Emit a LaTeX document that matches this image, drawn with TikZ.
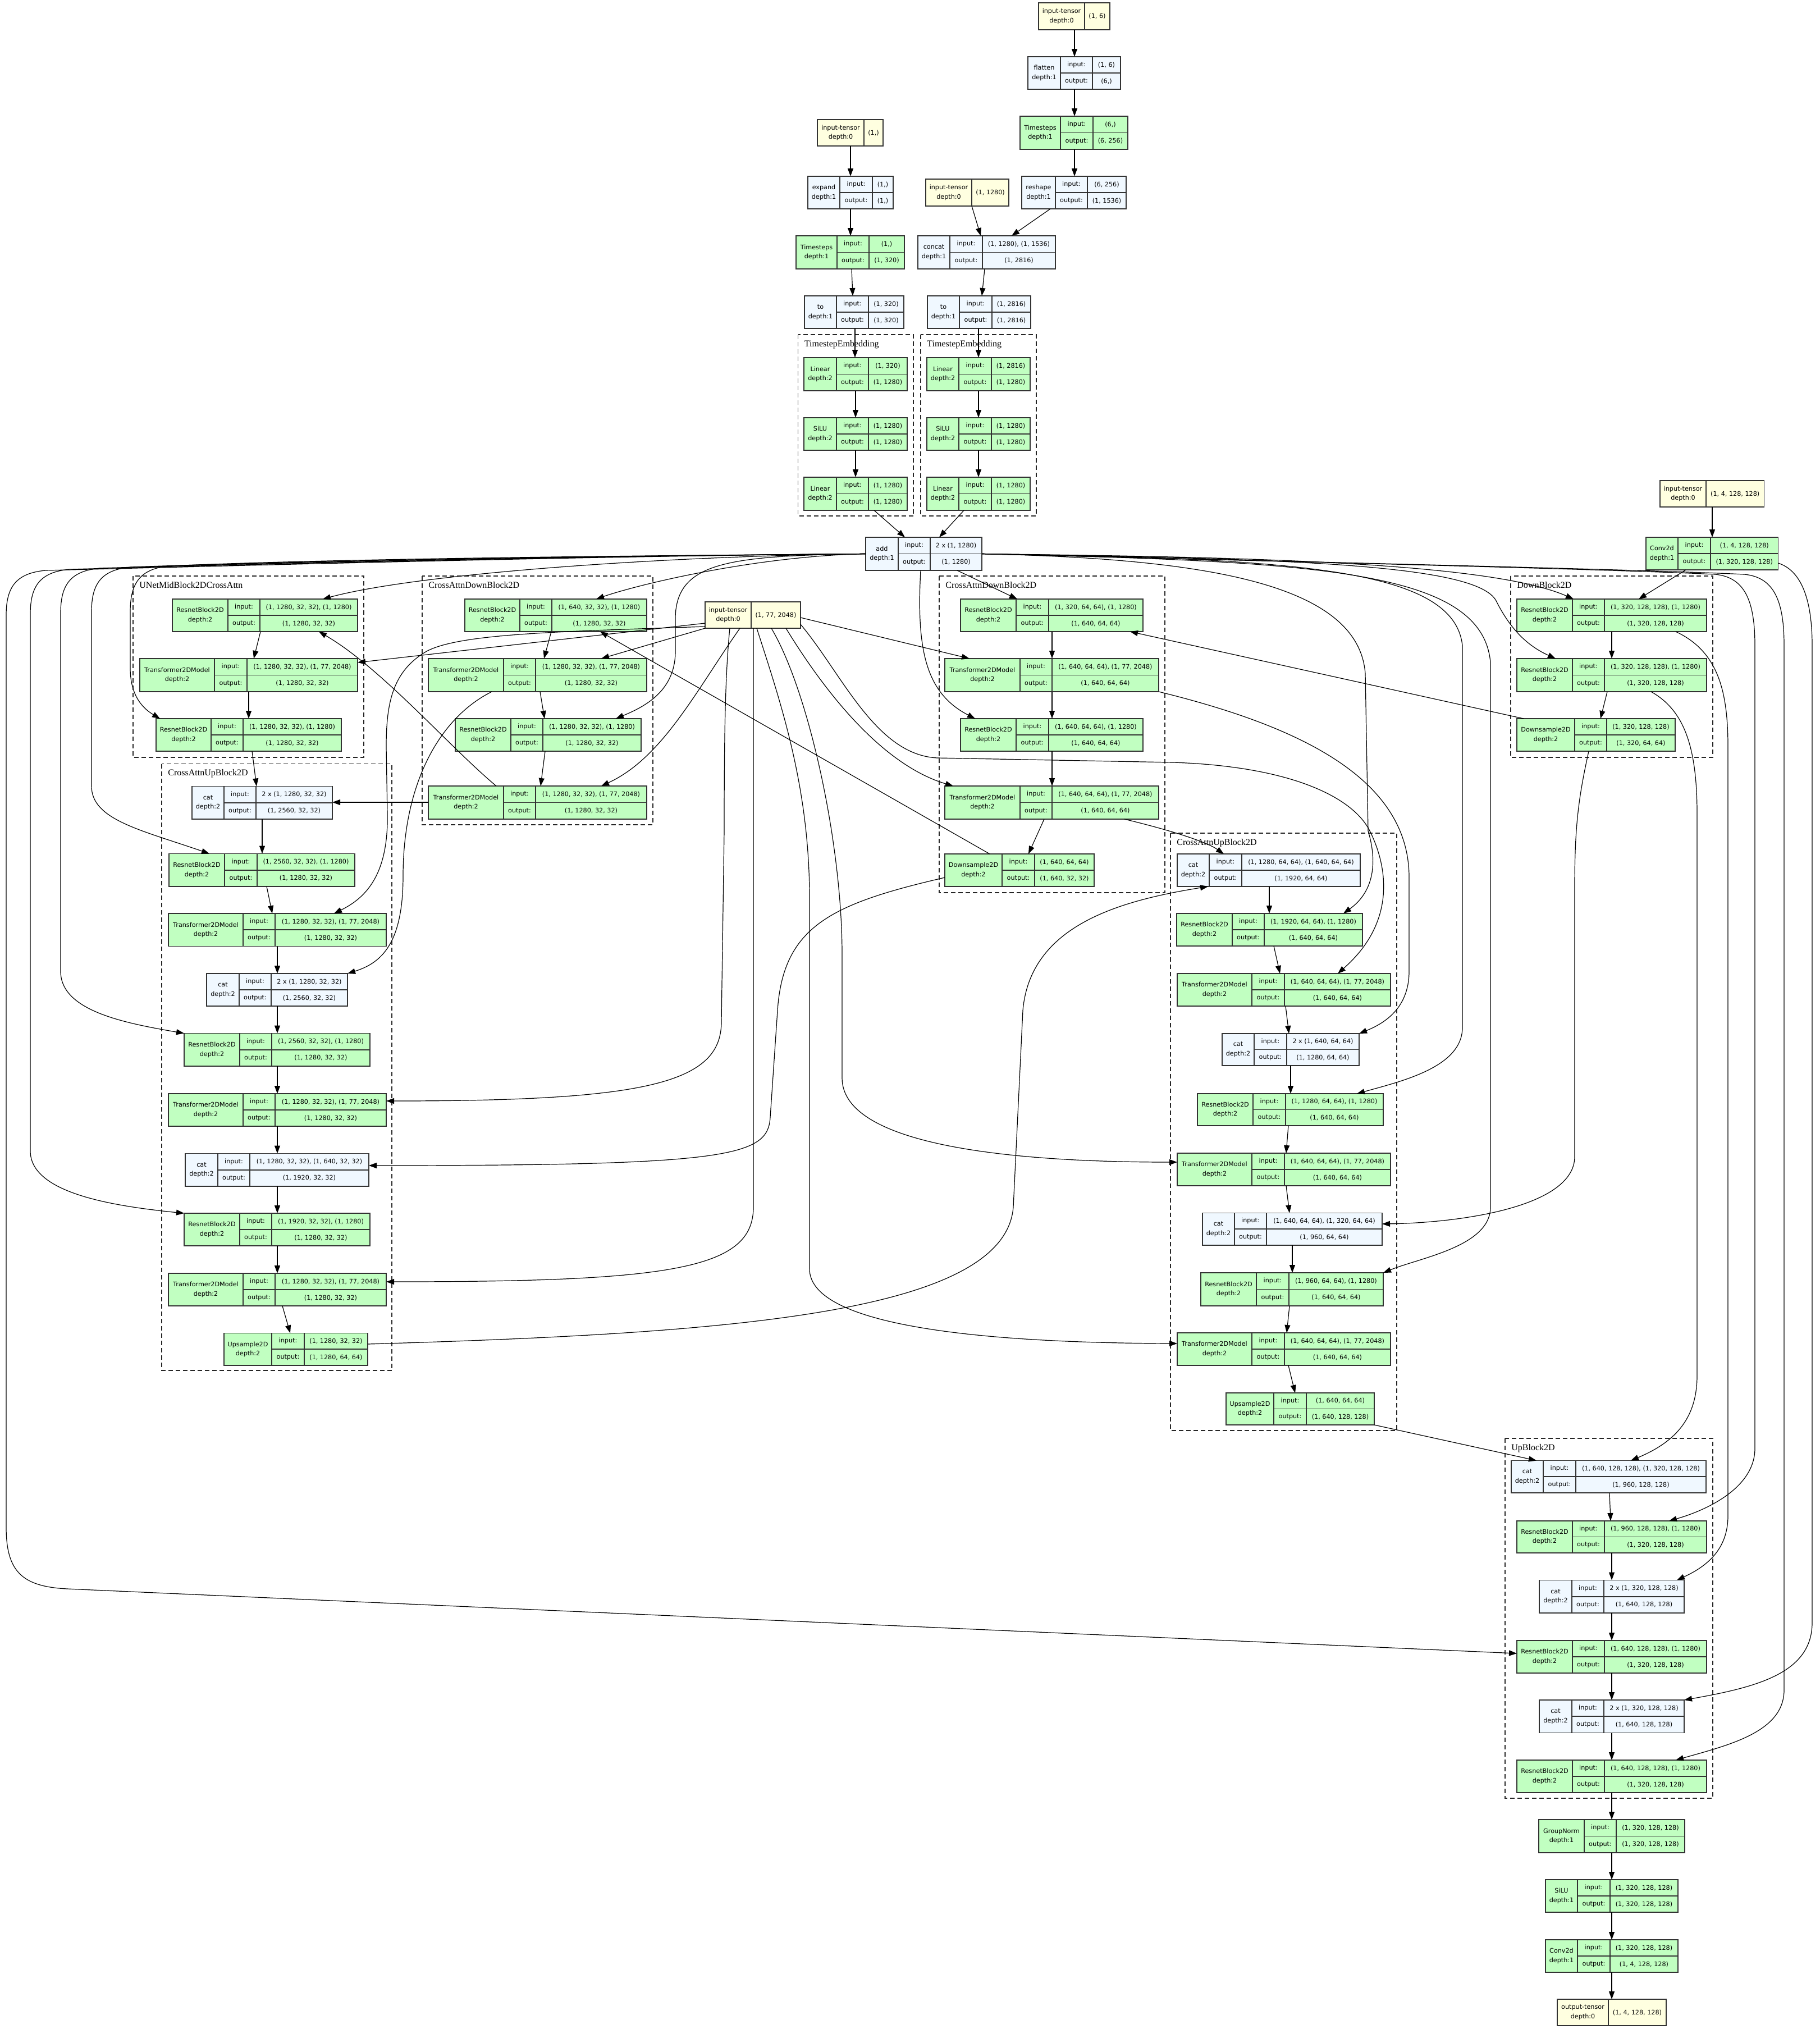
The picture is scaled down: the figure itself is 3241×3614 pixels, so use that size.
\documentclass[tikz,border=0pt]{standalone}
\usepackage{fontspec}
\setmainfont{DejaVu Sans}
\newfontfamily\clusterfont{Liberation Serif}
\usetikzlibrary{arrows.meta}
\definecolor{gfill}{HTML}{C1FFC1}
\definecolor{bfill}{HTML}{F0F8FF}
\definecolor{yfill}{HTML}{FFFFE0}
\definecolor{bord}{HTML}{333333}
% record node: name, L, s1, s2, R, T, B, fill, title
\newcommand{\zrec}[9]{%
  \pgfmathsetmacro\zzW{(#5-#2)*0.5}\pgfmathsetmacro\zzH{(#7-#6)*0.5}%
  \pgfmathsetmacro\zzM{(#6+#7)/2}%
  \node[cellbox,fill=#8,minimum width=\zzW pt,minimum height=\zzH pt] (#1) at ({(#2+#5)/2},\zzM) {};
  \draw[cellline] (#3,#6) -- (#3,#7) (#4,#6) -- (#4,#7) (#3,\zzM) -- (#5,\zzM);
  \node[txt] at ({(#2+#3)/2},\zzM) {#9};
  \xdef\zzsA{#3}\xdef\zzsB{#4}\xdef\zzR{#5}\xdef\zzT{#6}\xdef\zzB{#7}\xdef\zzMid{\zzM}%
}
\newcommand{\zio}[2]{%
  \node[txt] at ({(\zzsA+\zzsB)/2},{(\zzT+\zzMid)/2}) {input:};
  \node[txt] at ({(\zzsB+\zzR)/2},{(\zzT+\zzMid)/2}) {#1};
  \node[txt] at ({(\zzsA+\zzsB)/2},{(\zzMid+\zzB)/2}) {output:};
  \node[txt] at ({(\zzsB+\zzR)/2},{(\zzMid+\zzB)/2}) {#2};
}
% tensor node: name, L, split, R, T, B, title, value
\newcommand{\zten}[8]{%
  \pgfmathsetmacro\zzW{(#4-#2)*0.5}\pgfmathsetmacro\zzH{(#6-#5)*0.5}%
  \pgfmathsetmacro\zzM{(#5+#6)/2}%
  \node[cellbox,fill=yfill,minimum width=\zzW pt,minimum height=\zzH pt] (#1) at ({(#2+#4)/2},\zzM) {};
  \draw[cellline] (#3,#5) -- (#3,#6);
  \node[txt] at ({(#2+#3)/2},\zzM) {#7};
  \node[txt] at ({(#3+#4)/2},\zzM) {#8};
}
% cluster: name, L, T, R, B, label
\newcommand{\zclus}[6]{%
  \draw[clusbox] (#2,#3) rectangle (#4,#5);
  \node[cllabel] (#1) at ({#2+11},{#3+21}) {#6};
}
\begin{document}
\begin{tikzpicture}[x=0.5pt,y=-0.5pt,
  cellbox/.style={draw=bord,line width=0.8pt,inner sep=0pt,outer sep=0pt},
  cellline/.style={draw=bord,line width=0.8pt},
  txt/.style={inner sep=0pt,align=center,font=\fontsize{5.6}{8.35}\selectfont},
  clusbox/.style={draw=black!85,line width=0.65pt,dash pattern=on 4pt off 2.5pt},
  cllabel/.style={anchor=base west,inner sep=0pt,font=\clusterfont\fontsize{8}{9}\selectfont},
  edg/.style={draw=black,line width=0.6pt,-{Triangle[length=7pt,width=5pt]}},
]
\useasboundingbox (0,0) rectangle (3241,3614);
\fill[white] (0,0) rectangle (3241,3614);

% ---------- clusters ----------
\zclus{cTE1}{1421.5}{596}{1627}{919}{TimestepEmbedding}
\zclus{cTE2}{1640}{596}{1846}{919}{TimestepEmbedding}
\zclus{cMid}{237}{1026}{648}{1349}{UNetMidBlock2DCrossAttn}
\zclus{cDL}{752}{1026}{1163}{1469}{CrossAttnDownBlock2D}
\zclus{cDM}{1673}{1026}{2075}{1590}{CrossAttnDownBlock2D}
\zclus{cDR}{2691}{1026}{3051}{1349}{DownBlock2D}
\zclus{cUL}{288}{1360.5}{698}{2441}{CrossAttnUpBlock2D}
\zclus{cUR}{2085}{1484}{2488}{2548}{CrossAttnUpBlock2D}
\zclus{cUB}{2681}{2562}{3051}{3203}{UpBlock2D}

% ---------- top ----------
\zten{it6}{1850}{1932}{1977}{5}{53}{input-tensor\\depth:0}{(1, 6)}
\zrec{flatten}{1831}{1889}{1946}{1996}{101}{159}{bfill}{flatten\\depth:1}\zio{(1, 6)}{(6,)}
\zrec{ts6}{1817}{1889}{1947}{2009}{207}{266}{gfill}{Timesteps\\depth:1}\zio{(6,)}{(6, 256)}
\zrec{reshape}{1820}{1880}{1937}{2006}{314}{372}{bfill}{reshape\\depth:1}\zio{(6, 256)}{(1, 1536)}
\zten{it1}{1456}{1539}{1573}{213}{260}{input-tensor\\depth:0}{(1,)}
\zrec{expand}{1439}{1496}{1554}{1591}{314}{372}{bfill}{expand\\depth:1}\zio{(1,)}{(1,)}
\zrec{ts1}{1418}{1491}{1548}{1611}{420}{479}{gfill}{Timesteps\\depth:1}\zio{(1,)}{(1, 320)}
\zrec{to1}{1433}{1490}{1547}{1610}{527}{585}{bfill}{to\\depth:1}\zio{(1, 320)}{(1, 320)}
\zten{it1280}{1649}{1731}{1797}{319}{367}{input-tensor\\depth:0}{(1, 1280)}
\zrec{concat}{1635}{1692}{1750}{1880}{420}{479}{bfill}{concat\\depth:1}\zio{(1, 1280), (1, 1536)}{(1, 2816)}
\zrec{to2}{1652}{1709}{1767}{1836}{527}{585}{bfill}{to\\depth:1}\zio{(1, 2816)}{(1, 2816)}
\zrec{lin1a}{1432}{1490}{1547}{1616}{637}{696}{gfill}{Linear\\depth:2}\zio{(1, 320)}{(1, 1280)}
\zrec{silu1}{1432}{1490}{1547}{1616}{744}{802}{gfill}{SiLU\\depth:2}\zio{(1, 1280)}{(1, 1280)}
\zrec{lin1b}{1432}{1490}{1547}{1616}{850}{909}{gfill}{Linear\\depth:2}\zio{(1, 1280)}{(1, 1280)}
\zrec{lin2a}{1651}{1708}{1766}{1835}{637}{696}{gfill}{Linear\\depth:2}\zio{(1, 2816)}{(1, 1280)}
\zrec{silu2}{1651}{1708}{1766}{1835}{744}{802}{gfill}{SiLU\\depth:2}\zio{(1, 1280)}{(1, 1280)}
\zrec{lin2b}{1651}{1708}{1766}{1835}{850}{909}{gfill}{Linear\\depth:2}\zio{(1, 1280)}{(1, 1280)}
\zrec{add}{1542}{1600}{1657}{1749}{957}{1016}{bfill}{add\\depth:1}\zio{2 x (1, 1280)}{(1, 1280)}

% ---------- mid ----------
\zrec{mid1}{307}{406}{463}{637}{1067}{1125}{gfill}{ResnetBlock2D\\depth:2}\zio{(1, 1280, 32, 32), (1, 1280)}{(1, 1280, 32, 32)}
\zrec{midT}{249}{382}{440}{637}{1173}{1232}{gfill}{Transformer2DModel\\depth:2}\zio{(1, 1280, 32, 32), (1, 77, 2048)}{(1, 1280, 32, 32)}
\zrec{mid2}{278}{376}{433}{608}{1280}{1338}{gfill}{ResnetBlock2D\\depth:2}\zio{(1, 1280, 32, 32), (1, 1280)}{(1, 1280, 32, 32)}

% ---------- left down ----------
\zrec{d1}{828}{926}{983}{1152}{1067}{1125}{gfill}{ResnetBlock2D\\depth:2}\zio{(1, 640, 32, 32), (1, 1280)}{(1, 1280, 32, 32)}
\zrec{Td1}{763}{897}{954}{1152}{1173}{1232}{gfill}{Transformer2DModel\\depth:2}\zio{(1, 1280, 32, 32), (1, 77, 2048)}{(1, 1280, 32, 32)}
\zrec{d2}{811}{910}{967}{1142}{1280}{1338}{gfill}{ResnetBlock2D\\depth:2}\zio{(1, 1280, 32, 32), (1, 1280)}{(1, 1280, 32, 32)}
\zrec{Td2}{763}{897}{954}{1152}{1400}{1459}{gfill}{Transformer2DModel\\depth:2}\zio{(1, 1280, 32, 32), (1, 77, 2048)}{(1, 1280, 32, 32)}
\zten{it77}{1256}{1338}{1426}{1072}{1119}{input-tensor\\depth:0}{(1, 77, 2048)}

% ---------- middle down ----------
\zrec{m1}{1711}{1810}{1868}{2036}{1067}{1125}{gfill}{ResnetBlock2D\\depth:2}\zio{(1, 320, 64, 64), (1, 1280)}{(1, 640, 64, 64)}
\zrec{Tm1}{1683}{1817}{1874}{2064}{1173}{1232}{gfill}{Transformer2DModel\\depth:2}\zio{(1, 640, 64, 64), (1, 77, 2048)}{(1, 640, 64, 64)}
\zrec{m2}{1711}{1810}{1868}{2036}{1280}{1338}{gfill}{ResnetBlock2D\\depth:2}\zio{(1, 640, 64, 64), (1, 1280)}{(1, 640, 64, 64)}
\zrec{Tm2}{1683}{1817}{1874}{2064}{1400}{1459}{gfill}{Transformer2DModel\\depth:2}\zio{(1, 640, 64, 64), (1, 77, 2048)}{(1, 640, 64, 64)}
\zrec{dsm}{1683}{1785}{1843}{1949}{1521}{1579}{gfill}{Downsample2D\\depth:2}\zio{(1, 640, 64, 64)}{(1, 640, 32, 32)}

% ---------- right down ----------
\zten{it4}{2957}{3039}{3142.5}{856}{903}{input-tensor\\depth:0}{(1, 4, 128, 128)}
\zrec{convin}{2932}{2989}{3047}{3167.5}{957}{1015}{gfill}{Conv2d\\depth:1}\zio{(1, 4, 128, 128)}{(1, 320, 128, 128)}
\zrec{r1}{2702}{2801}{2858}{3040}{1067}{1125}{gfill}{ResnetBlock2D\\depth:2}\zio{(1, 320, 128, 128), (1, 1280)}{(1, 320, 128, 128)}
\zrec{r2}{2702}{2801}{2858}{3040}{1173}{1232}{gfill}{ResnetBlock2D\\depth:2}\zio{(1, 320, 128, 128), (1, 1280)}{(1, 320, 128, 128)}
\zrec{dsr}{2702}{2805}{2862}{2984}{1280}{1338}{gfill}{Downsample2D\\depth:2}\zio{(1, 320, 128, 128)}{(1, 320, 64, 64)}

% ---------- left up ----------
\zrec{cu1}{342}{399}{456}{592}{1400.5}{1459}{bfill}{cat\\depth:2}\zio{2 x (1, 1280, 32, 32)}{(1, 2560, 32, 32)}
\zrec{Ru1}{301}{400}{458}{632}{1520.5}{1579}{gfill}{ResnetBlock2D\\depth:2}\zio{(1, 2560, 32, 32), (1, 1280)}{(1, 1280, 32, 32)}
\zrec{Tu1}{300}{433}{490}{688}{1627}{1685.5}{gfill}{Transformer2DModel\\depth:2}\zio{(1, 1280, 32, 32), (1, 77, 2048)}{(1, 1280, 32, 32)}
\zrec{cu2}{368}{426}{483}{619}{1734}{1792}{bfill}{cat\\depth:2}\zio{2 x (1, 1280, 32, 32)}{(1, 2560, 32, 32)}
\zrec{Ru2}{328}{427}{484}{659}{1840.5}{1899}{gfill}{ResnetBlock2D\\depth:2}\zio{(1, 2560, 32, 32), (1, 1280)}{(1, 1280, 32, 32)}
\zrec{Tu2}{300}{433}{490}{688}{1948}{2006}{gfill}{Transformer2DModel\\depth:2}\zio{(1, 1280, 32, 32), (1, 77, 2048)}{(1, 1280, 32, 32)}
\zrec{cu3}{330}{388}{445}{657}{2054.5}{2113}{bfill}{cat\\depth:2}\zio{(1, 1280, 32, 32), (1, 640, 32, 32)}{(1, 1920, 32, 32)}
\zrec{Ru3}{328}{427}{484}{659}{2161}{2219}{gfill}{ResnetBlock2D\\depth:2}\zio{(1, 1920, 32, 32), (1, 1280)}{(1, 1280, 32, 32)}
\zrec{Tu3}{300}{433}{490}{688}{2268}{2326}{gfill}{Transformer2DModel\\depth:2}\zio{(1, 1280, 32, 32), (1, 77, 2048)}{(1, 1280, 32, 32)}
\zrec{usu}{399}{484}{542}{655}{2374.5}{2432}{gfill}{Upsample2D\\depth:2}\zio{(1, 1280, 32, 32)}{(1, 1280, 64, 64)}

% ---------- right up ----------
\zrec{cr1}{2097}{2154}{2212}{2423}{1521}{1579}{bfill}{cat\\depth:2}\zio{(1, 1280, 64, 64), (1, 640, 64, 64)}{(1, 1920, 64, 64)}
\zrec{Rr1}{2096}{2195}{2252}{2427}{1627}{1685}{gfill}{ResnetBlock2D\\depth:2}\zio{(1, 1920, 64, 64), (1, 1280)}{(1, 640, 64, 64)}
\zrec{Tr1}{2097}{2230}{2288}{2477}{1734}{1792}{gfill}{Transformer2DModel\\depth:2}\zio{(1, 640, 64, 64), (1, 77, 2048)}{(1, 640, 64, 64)}
\zrec{cr2}{2177}{2234}{2292}{2421}{1841}{1898}{bfill}{cat\\depth:2}\zio{2 x (1, 640, 64, 64)}{(1, 1280, 64, 64)}
\zrec{Rr2}{2133}{2232}{2290}{2464}{1948}{2005}{gfill}{ResnetBlock2D\\depth:2}\zio{(1, 1280, 64, 64), (1, 1280)}{(1, 640, 64, 64)}
\zrec{Tr2}{2097}{2230}{2288}{2477}{2054}{2112}{gfill}{Transformer2DModel\\depth:2}\zio{(1, 640, 64, 64), (1, 77, 2048)}{(1, 640, 64, 64)}
\zrec{cr3}{2142}{2199}{2256}{2462}{2160.5}{2218}{bfill}{cat\\depth:2}\zio{(1, 640, 64, 64), (1, 320, 64, 64)}{(1, 960, 64, 64)}
\zrec{Rr3}{2139}{2238}{2296}{2464}{2267}{2326}{gfill}{ResnetBlock2D\\depth:2}\zio{(1, 960, 64, 64), (1, 1280)}{(1, 640, 64, 64)}
\zrec{Tr3}{2097}{2230}{2288}{2477}{2374}{2432}{gfill}{Transformer2DModel\\depth:2}\zio{(1, 640, 64, 64), (1, 77, 2048)}{(1, 640, 64, 64)}
\zrec{usr}{2184}{2269}{2327}{2448}{2481}{2538}{gfill}{Upsample2D\\depth:2}\zio{(1, 640, 64, 64)}{(1, 640, 128, 128)}

% ---------- up block ----------
\zrec{cb1}{2692}{2749}{2807}{3039}{2601.5}{2659}{bfill}{cat\\depth:2}\zio{(1, 640, 128, 128), (1, 320, 128, 128)}{(1, 960, 128, 128)}
\zrec{Rb1}{2702}{2801}{2858}{3040}{2709}{2766}{gfill}{ResnetBlock2D\\depth:2}\zio{(1, 960, 128, 128), (1, 1280)}{(1, 320, 128, 128)}
\zrec{cb2}{2742}{2800}{2857}{3000}{2814.5}{2873}{bfill}{cat\\depth:2}\zio{2 x (1, 320, 128, 128)}{(1, 640, 128, 128)}
\zrec{Rb2}{2702}{2801}{2858}{3040}{2922}{2980}{gfill}{ResnetBlock2D\\depth:2}\zio{(1, 640, 128, 128), (1, 1280)}{(1, 320, 128, 128)}
\zrec{cb3}{2742}{2800}{2857}{3000}{3028}{3086.5}{bfill}{cat\\depth:2}\zio{2 x (1, 320, 128, 128)}{(1, 640, 128, 128)}
\zrec{Rb3}{2702}{2801}{2858}{3040}{3135}{3193}{gfill}{ResnetBlock2D\\depth:2}\zio{(1, 640, 128, 128), (1, 1280)}{(1, 320, 128, 128)}
\zrec{gn}{2741}{2822}{2879}{3001}{3241}{3300}{gfill}{GroupNorm\\depth:1}\zio{(1, 320, 128, 128)}{(1, 320, 128, 128)}
\zrec{silu}{2753}{2810}{2868}{2989}{3348}{3406}{gfill}{SiLU\\depth:1}\zio{(1, 320, 128, 128)}{(1, 320, 128, 128)}
\zrec{convout}{2753}{2810}{2868}{2989}{3455}{3513}{gfill}{Conv2d\\depth:1}\zio{(1, 320, 128, 128)}{(1, 4, 128, 128)}
\zten{outt}{2774}{2865}{2968}{3561}{3608}{output-tensor\\depth:0}{(1, 4, 128, 128)}

% ================= edges =================
% top chains
\draw[edg] (it6.south -| 1914,0) -- (flatten.north -| 1914,0);
\draw[edg] (flatten.south -| 1914,0) -- (ts6.north -| 1914,0);
\draw[edg] (ts6.south -| 1914,0) -- (reshape.north -| 1914,0);
\draw[edg] (it1.south -| 1515,0) -- (expand.north -| 1515,0);
\draw[edg] (expand.south -| 1515,0) -- (ts1.north -| 1515,0);
\draw[edg] (ts1.south -| 1517,0) -- (to1.north -| 1519,0);
\draw[edg] (to1.south -| 1523,0) -- (lin1a.north -| 1523,0);
\draw[edg] (it1280.south -| 1731,0) -- (concat.north -| 1747,0);
\draw[edg] (reshape.south -| 1871,0) -- (concat.north -| 1802,0);
\draw[edg] (concat.south -| 1754,0) -- (to2.north -| 1749,0);
\draw[edg] (to2.south -| 1743,0) -- (lin2a.north -| 1743,0);
\draw[edg] (lin1a.south -| 1524,0) -- (silu1.north -| 1524,0);
\draw[edg] (silu1.south -| 1524,0) -- (lin1b.north -| 1524,0);
\draw[edg] (lin2a.south -| 1743,0) -- (silu2.north -| 1743,0);
\draw[edg] (silu2.south -| 1743,0) -- (lin2b.north -| 1743,0);
\draw[edg] (lin1b.south -| 1557,0) -- (add.north -| 1612,0);
\draw[edg] (lin2b.south -| 1717,0) -- (add.north -| 1673,0);

% block chains
\draw[edg] (mid1.south -| 464,0) -- (midT.north -| 452,0);
\draw[edg] (midT.south -| 443,0) -- (mid2.north -| 443,0);
\draw[edg] (mid2.south -| 449,0) -- (cu1.north -| 457,0);
\draw[edg] (d1.south -| 982,0) -- (Td1.north -| 969,0);
\draw[edg] (Td1.south -| 962,0) -- (d2.north -| 970,0);
\draw[edg] (d2.south -| 971,0) -- (Td2.north -| 963,0);
\draw[edg] (m1.south -| 1874,0) -- (Tm1.north -| 1874,0);
\draw[edg] (Tm1.south -| 1874,0) -- (m2.north -| 1874,0);
\draw[edg] (m2.south -| 1874,0) -- (Tm2.north -| 1874,0);
\draw[edg] (Tm2.south -| 1860,0) -- (dsm.north -| 1832,0);
\draw[edg] (it4.south -| 3050,0) -- (convin.north -| 3050,0);
\draw[edg] (convin.south -| 3003,0) -- (r1.north -| 2919,0);
\draw[edg] (r1.south -| 2871,0) -- (r2.north -| 2871,0);
\draw[edg] (r2.south -| 2863,0) -- (dsr.north -| 2851,0);
\draw[edg] (cu1.south -| 467,0) -- (Ru1.north -| 467,0);
\draw[edg] (Ru1.south -| 475,0) -- (Tu1.north -| 485,0);
\draw[edg] (Tu1.south -| 494,0) -- (cu2.north -| 494,0);
\draw[edg] (cu2.south -| 494,0) -- (Ru2.north -| 494,0);
\draw[edg] (Ru2.south -| 494,0) -- (Tu2.north -| 494,0);
\draw[edg] (Tu2.south -| 494,0) -- (cu3.north -| 494,0);
\draw[edg] (cu3.south -| 494,0) -- (Ru3.north -| 494,0);
\draw[edg] (Ru3.south -| 494,0) -- (Tu3.north -| 494,0);
\draw[edg] (Tu3.south -| 503,0) -- (usu.north -| 517,0);
\draw[edg] (cr1.south -| 2261,0) -- (Rr1.north -| 2261,0);
\draw[edg] (Rr1.south -| 2269,0) -- (Tr1.north -| 2280,0);
\draw[edg] (Tr1.south -| 2290,0) -- (cr2.north -| 2296,0);
\draw[edg] (cr2.south -| 2299,0) -- (Rr2.north -| 2299,0);
\draw[edg] (Rr2.south -| 2295,0) -- (Tr2.north -| 2291,0);
\draw[edg] (Tr2.south -| 2291,0) -- (cr3.north -| 2297,0);
\draw[edg] (cr3.south -| 2302,0) -- (Rr3.north -| 2302,0);
\draw[edg] (Rr3.south -| 2297,0) -- (Tr3.north -| 2292,0);
\draw[edg] (Tr3.south -| 2295,0) -- (usr.north -| 2307,0);
\draw[edg] (cb1.south -| 2867,0) -- (Rb1.north -| 2869,0);
\draw[edg] (Rb1.south -| 2871,0) -- (cb2.north -| 2871,0);
\draw[edg] (cb2.south -| 2871,0) -- (Rb2.north -| 2871,0);
\draw[edg] (Rb2.south -| 2871,0) -- (cb3.north -| 2871,0);
\draw[edg] (cb3.south -| 2871,0) -- (Rb3.north -| 2871,0);
\draw[edg] (Rb3.south -| 2871,0) -- (gn.north -| 2871,0);
\draw[edg] (gn.south -| 2871,0) -- (silu.north -| 2871,0);
\draw[edg] (silu.south -| 2871,0) -- (convout.north -| 2871,0);
\draw[edg] (convout.south -| 2871,0) -- (outt.north -| 2871,0);

% skip connections
\draw[edg] (Td2.west |- 0,1429) -- (cu1.east |- 0,1429);
\draw[edg] (Td1.south -| 876,0) .. controls (780,1280) and (718,1400) .. (718,1560) .. controls (718,1680) and (680,1715) .. (cu2.north east);
\draw[edg] (dsm.west |- 0,1563) .. controls (1480,1610) and (1395,1650) .. (1385,1800) -- (1372,1990) .. controls (1368,2060) and (1300,2076) .. (cu3.east |- 0,2076);
\draw[edg] (dsm.north -| 1763,0) -- (d1.south -| 1069,0);
\draw[edg] (Td2.north -| 884,0) .. controls (800,1330) and (680,1190) .. (mid1.south -| 568,0);
\draw[edg] (dsr.north -| 2714,0) -- (m1.south -| 2013,0);
\draw[edg] (dsr.south -| 2830,0) .. controls (2812,1420) and (2805,1470) .. (2805,1580) -- (2805,2060) .. controls (2805,2150) and (2600,2178) .. (cr3.east |- 0,2180);
\draw[edg] (Tm1.south east) .. controls (2300,1290) and (2508,1380) .. (2510,1560) -- (2510,1730) .. controls (2510,1800) and (2460,1825) .. (cr2.north east);
\draw[edg] (Tm2.south -| 2003,0) .. controls (2090,1480) and (2150,1500) .. (cr1.north -| 2180,0);
\draw[edg] (usu.east |- 0,2394) .. controls (1300,2375) and (1790,2340) .. (1805,2150) -- (1822,1800) .. controls (1835,1650) and (1990,1605) .. (cr1.south -| 2152,0);
\draw[edg] (usr.south east) -- (cb1.north -| 2737,0);
\draw[edg] (r2.south -| 2941,0) .. controls (3000,1265) and (3023,1330) .. (3023,1450) -- (3023,2450) .. controls (3023,2530) and (2980,2570) .. (cb1.north -| 2905,0);
\draw[edg] (r1.south -| 2985,0) .. controls (3060,1160) and (3078,1230) .. (3078,1330) -- (3078,2700) .. controls (3078,2760) and (3040,2790) .. (cb2.north -| 2987,0);
\draw[edg] (convin.east |- 0,1003) .. controls (3205,1015) and (3228,1060) .. (3228,1150) -- (3228,2890) .. controls (3228,2980) and (3130,3005) .. (cb3.north east);

% time embedding (add) -> resnet blocks, leftwards
\draw[edg] (add.west) .. controls (1200,990) and (750,1020) .. (mid1.north -| 575,0);
\draw[edg] (add.west) .. controls (1350,990) and (1140,1040) .. (d1.north -| 1062,0);
\draw[edg] (add.west) .. controls (1300,990) and (1205,1000) .. (1203,1100) -- (1203,1160) .. controls (1203,1230) and (1150,1258) .. (d2.north -| 1097,0);
\draw[edg] (add.west) .. controls (1100,990) and (600,995) .. (302,1008) .. controls (248,1013) and (232,1040) .. (232,1090) -- (232,1190) .. controls (232,1240) and (255,1262) .. (mid2.north -| 285,0);
\draw[edg] (add.west) .. controls (1100,990) and (600,997) .. (233,1010) .. controls (180,1015) and (163,1040) .. (163,1090) -- (163,1400) .. controls (163,1460) and (250,1478) .. (Ru1.north -| 373,0);
\draw[edg] (add.west) .. controls (1100,990) and (600,999) .. (178,1012) .. controls (125,1017) and (108,1042) .. (108,1092) -- (108,1730) .. controls (108,1800) and (220,1822) .. (Ru2.north west);
\draw[edg] (add.west) .. controls (1100,990) and (600,1001) .. (124,1014) .. controls (71,1019) and (54,1044) .. (54,1094) -- (54,2050) .. controls (54,2125) and (200,2148) .. (Ru3.north west);
\draw[edg] (add.west) .. controls (1100,990) and (600,1003) .. (81,1016) .. controls (28,1021) and (11,1046) .. (11,1096) -- (11,2720) .. controls (11,2800) and (40,2826) .. (120,2830) -- (Rb2.west |- 0,2945);

% time embedding (add) -> resnet blocks, rightwards
\draw[edg] (add.south -| 1705,0) -- (m1.north -| 1812,0);
\draw[edg] (add.south -| 1640,0) .. controls (1632,1160) and (1650,1235) .. (m2.north -| 1737,0);
\draw[edg] (add.east) .. controls (2200,992) and (2650,1000) .. (r1.north -| 2803,0);
\draw[edg] (add.east) .. controls (2300,995) and (2630,1005) .. (2665,1070) .. controls (2690,1120) and (2720,1150) .. (r2.north -| 2771,0);
\draw[edg] (add.east) .. controls (2150,995) and (2420,1040) .. (2432,1200) -- (2437,1480) .. controls (2455,1540) and (2445,1590) .. (Rr1.north -| 2393,0);
\draw[edg] (add.east) .. controls (2300,995) and (2590,1010) .. (2605,1150) -- (2605,1830) .. controls (2605,1900) and (2500,1925) .. (Rr2.north -| 2417,0);
\draw[edg] (add.east) .. controls (2350,1000) and (2640,1015) .. (2655,1180) -- (2655,2150) .. controls (2655,2220) and (2530,2240) .. (Rr3.north east);
\draw[edg] (add.east) .. controls (2300,1000) and (2900,1015) .. (3055,1023) .. controls (3108,1028) and (3126,1070) .. (3126,1150) -- (3126,2580) .. controls (3126,2650) and (3040,2690) .. (Rb1.north -| 2973,0);
\draw[edg] (add.east) .. controls (2300,1000) and (2950,1015) .. (3107,1023) .. controls (3160,1028) and (3178,1070) .. (3178,1150) -- (3178,3010) .. controls (3178,3085) and (3080,3108) .. (Rb3.north -| 2985,0);

% encoder hidden states -> transformers
\draw[edg] (it77.south west) -- (Td1.north -| 1071,0);
\draw[edg] (it77.west |- 0,1110) -- (midT.east |- 0,1180);
\draw[edg] (it77.south -| 1318,0) .. controls (1240,1230) and (1180,1350) .. (Td2.north -| 1071,0);
\draw[edg] (it77.west |- 0,1116) .. controls (1000,1125) and (820,1128) .. (760,1160) .. controls (700,1195) and (688,1250) .. (688,1330) -- (690,1450) .. controls (692,1560) and (650,1600) .. (Tu1.north -| 595,0);
\draw[edg] (it77.south -| 1300,0) .. controls (1292,1200) and (1290,1300) .. (1290,1480) -- (1285,1820) .. controls (1285,1930) and (1150,1961) .. (Tu2.east |- 0,1961);
\draw[edg] (it77.south -| 1342,0) -- (1342,2150) .. controls (1342,2260) and (1200,2283) .. (Tu3.east |- 0,2283);
\draw[edg] (it77.east |- 0,1100) -- (Tm1.north -| 1727,0);
\draw[edg] (it77.south -| 1400,0) .. controls (1480,1250) and (1580,1365) .. (Tm2.north -| 1698,0);
\draw[edg] (it77.east |- 0,1112) .. controls (1500,1200) and (1560,1345) .. (1670,1350) -- (2090,1358) .. controls (2300,1365) and (2410,1420) .. (2440,1480) .. controls (2470,1540) and (2490,1640) .. (Tr1.north -| 2383,0);
\draw[edg] (it77.south -| 1374,0) .. controls (1440,1230) and (1500,1500) .. (1500,1700) -- (1500,1920) .. controls (1500,2040) and (1800,2070) .. (Tr2.west |- 0,2070);
\draw[edg] (it77.south -| 1348,0) .. controls (1390,1250) and (1442,1400) .. (1442,1600) -- (1442,2260) .. controls (1442,2370) and (1800,2392) .. (Tr3.west |- 0,2393);
\end{tikzpicture}
\end{document}
